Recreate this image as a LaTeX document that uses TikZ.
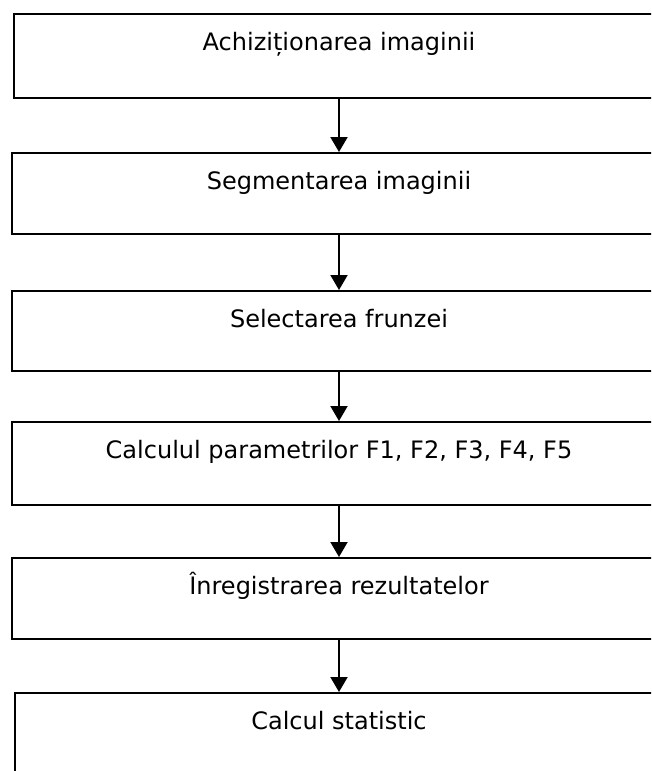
\documentclass[tikz,border=0pt]{standalone}
\usepackage{fontspec}
\setmainfont{DejaVu Sans}
\usetikzlibrary{arrows.meta}
\begin{document}
\begin{tikzpicture}[x=1pt,y=-1pt,
  box/.style={draw=black,line width=2pt,rectangle,inner sep=0pt,anchor=north west,minimum width=700pt},
  txt/.style={anchor=base,inner sep=0pt,font=\fontsize{24}{28}\selectfont},
  arr/.style={line width=2pt,-{Triangle[width=17pt,length=15pt]}}]
\useasboundingbox (0,0) rectangle (651,771);
\clip (0,0) rectangle (651,771);
\node[box,minimum height=84pt] (b1) at (12.5,13) {};
\node[box,minimum height=81pt] (b2) at (10.5,152) {};
\node[box,minimum height=80pt] (b3) at (10.5,290) {};
\node[box,minimum height=83pt] (b4) at (10.5,421) {};
\node[box,minimum height=81pt] (b5) at (10.5,557) {};
\node[box,minimum height=90pt] (b6) at (13.5,692) {};
\node[txt] (t1) at (339,50) {Achiziționarea imaginii};
\node[txt] (t2) at (339,189) {Segmentarea imaginii};
\node[txt] (t3) at (339,327) {Selectarea frunzei};
\node[txt] (t4) at (339,458) {Calculul parametrilor F1, F2, F3, F4, F5};
\node[txt] (t5) at (339,594) {Înregistrarea rezultatelor};
\node[txt] (t6) at (339,729) {Calcul statistic};
\draw[arr] (t1 |- b1.south) -- (t1 |- b2.north);
\draw[arr] (t2 |- b2.south) -- (t2 |- b3.north);
\draw[arr] (t3 |- b3.south) -- (t3 |- b4.north);
\draw[arr] (t4 |- b4.south) -- (t4 |- b5.north);
\draw[arr] (t5 |- b5.south) -- (t5 |- b6.north);
\end{tikzpicture}
\end{document}
